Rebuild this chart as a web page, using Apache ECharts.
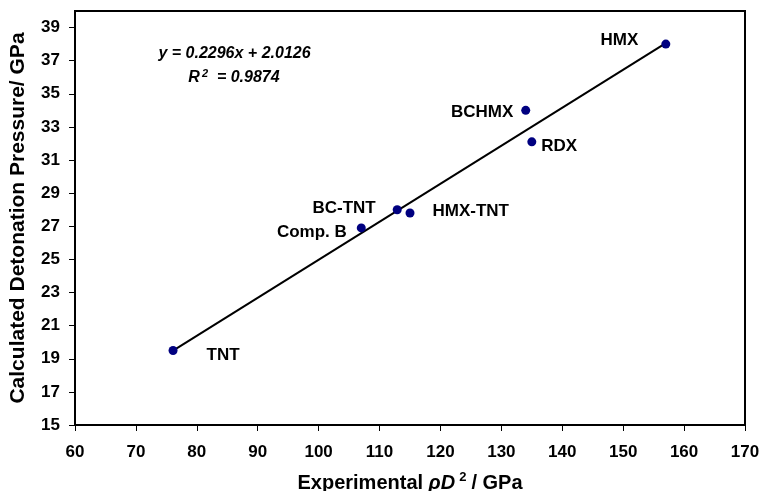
<!DOCTYPE html>
<html>
<head>
<meta charset="utf-8">
<script src="https://cdn.jsdelivr.net/npm/echarts@6/dist/echarts.min.js"></script>
<style>
html,body{margin:0;padding:0;background:#fff;}
#chart{width:761px;height:491px;}
</style>
</head>
<body>
<div id="chart"></div>
<script>
// ---- data ----
const names = ['TNT', 'Comp. B', 'BC-TNT', 'HMX-TNT', 'BCHMX', 'RDX', 'HMX'];
const xValues = [76.1, 107.0, 112.9, 115.0, 134.0, 135.0, 157.0];
const yValues = [19.5, 26.9, 28.0, 27.8, 34.0, 32.1, 38.0];
const trendX = [76.1, 157.0];
const trendY = [19.49, 38.06];
const xTicks = [60, 70, 80, 90, 100, 110, 120, 130, 140, 150, 160, 170];
const yTicks = [15, 17, 19, 21, 23, 25, 27, 29, 31, 33, 35, 37, 39];
const equationText = 'y = 0.2296x + 2.0126';
const r2Value = '0.9874';

// ---- label placement (style) ----
const labelPlace = {
  'TNT':     {position: 'right', distance: 29, offset: [0, 5]},
  'Comp. B': {position: 'left',  distance: 10, offset: [0, 4]},
  'BC-TNT':  {position: 'left',  distance: 17, offset: [0, -1]},
  'HMX-TNT': {position: 'right', distance: 18, offset: [0, -2]},
  'BCHMX':   {position: 'left',  distance: 8,  offset: [0, 1.5]},
  'RDX':     {position: 'right', distance: 5,  offset: [0, 4]},
  'HMX':     {position: 'left',  distance: 23, offset: [0, -4]}
};

const labelFont = '"Liberation Sans", Arial, sans-serif';
const titleFont = '"Liberation Sans", Arial, sans-serif';
const labelStyle = {color: '#000', fontFamily: labelFont, fontWeight: 'bold', fontSize: 17};

const scatterData = names.map((n, i) => ({
  name: n,
  value: [xValues[i], yValues[i]],
  label: Object.assign({show: true, formatter: n}, labelStyle, labelPlace[n])
}));

const chart = echarts.init(document.getElementById('chart'), null, {renderer: 'canvas'});
chart.setOption({
  animation: false,
  backgroundColor: '#fff',
  grid: {left: 75, right: 16, top: 11, bottom: 66, show: true, borderColor: '#000', borderWidth: 2,
         backgroundColor: 'transparent', containLabel: false, outerBoundsMode: 'none'},
  xAxis: {
    type: 'value', min: xTicks[0], max: xTicks[xTicks.length - 1], interval: 10,
    axisLine: {show: true, lineStyle: {color: '#000', width: 2}},
    axisTick: {show: true, length: 6, lineStyle: {color: '#000', width: 1}},
    splitLine: {show: false},
    axisLabel: {color: '#000', fontFamily: labelFont, fontWeight: 'bold', fontSize: 17, margin: 19},
    name: '{a|Experimental }{i|ρD}{s|2}{a|/ GPa}',
    nameLocation: 'middle', nameGap: 46,
    nameTextStyle: {
      rich: {
        a: {fontFamily: titleFont, fontWeight: 'bold', fontSize: 20, color: '#000'},
        i: {fontFamily: titleFont, fontWeight: 'bold', fontStyle: 'italic', fontSize: 20, color: '#000'},
        s: {fontFamily: titleFont, fontWeight: 'bold', fontSize: 13, color: '#000', padding: [0, 5, 12, 4]}
      }
    }
  },
  yAxis: {
    type: 'value', min: 15, max: 40,
    axisLine: {show: true, lineStyle: {color: '#000', width: 2}},
    axisTick: {show: true, length: 6, lineStyle: {color: '#000', width: 1}, customValues: yTicks},
    splitLine: {show: false},
    axisLabel: {color: '#000', fontFamily: labelFont, fontWeight: 'bold', fontSize: 17, margin: 15, customValues: yTicks},
    name: 'Calculated Detonation Pressure/ GPa',
    nameLocation: 'middle', nameGap: 46,
    nameTextStyle: {fontFamily: titleFont, fontWeight: 'bold', fontSize: 21, color: '#000'}
  },
  graphic: [
    {type: 'text', x: 234.5, y: 54, z: 10,
     style: {text: equationText, font: 'italic bold 16px "Liberation Sans"', fill: '#000', align: 'center', verticalAlign: 'middle'}},
    {type: 'text', x: 234, y: 78, z: 10,
     style: {text: '{r|R}{s|2}{r|  = ' + r2Value + '}', fill: '#000', align: 'center', verticalAlign: 'middle',
       rich: {
         r: {fontFamily: 'Liberation Sans', fontStyle: 'italic', fontWeight: 'bold', fontSize: 16, fill: '#000'},
         s: {fontFamily: 'Liberation Sans', fontStyle: 'italic', fontWeight: 'bold', fontSize: 11, fill: '#000', padding: [0, 0, 9, 2]}
       }}}
  ],
  series: [
    {
      type: 'line', data: trendX.map((x, i) => [x, trendY[i]]),
      showSymbol: false, symbol: 'none', silent: true, z: 2,
      lineStyle: {color: '#000', width: 2}
    },
    {
      type: 'scatter', data: scatterData, symbol: 'circle', symbolSize: 9, z: 3,
      itemStyle: {color: '#000080', opacity: 1},
      label: labelStyle
    }
  ]
});
</script>
</body>
</html>
